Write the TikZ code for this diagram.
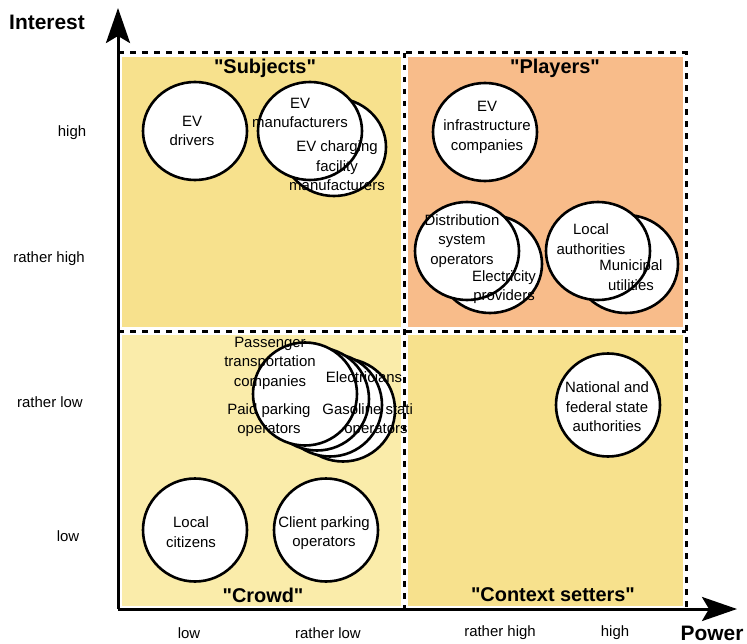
\documentclass[tikz,border=0pt]{standalone}
\usepackage{fontspec}
\setmainfont{Liberation Sans}
\usetikzlibrary{arrows.meta,shapes.geometric}
\definecolor{subjfill}{RGB}{247,225,141}
\definecolor{playfill}{RGB}{248,188,138}
\definecolor{crowdfill}{RGB}{250,236,170}
\definecolor{ctxfill}{RGB}{247,225,141}
\begin{document}
\begin{tikzpicture}[x=1bp,y=-1bp,
  stake/.style={ellipse, draw=black, fill=white, line width=2.6bp,
    minimum width=104bp, minimum height=98bp, inner sep=0pt},
  stakeR/.style={stake, minimum height=103bp},
  lbl/.style={align=center, font=\fontsize{15}{19.5}\selectfont, inner sep=0pt},
  quad/.style={font=\bfseries\fontsize{20}{24}\selectfont, inner sep=0pt},
  ticklbl/.style={font=\fontsize{15}{18}\selectfont, inner sep=0pt},
  axtitle/.style={font=\bfseries\fontsize{21}{25}\selectfont, inner sep=0pt},
  gridline/.style={line width=3bp, dash pattern=on 5.5bp off 6.5bp},
  axisline/.style={line width=3bp, -{Stealth[length=35bp,width=24bp,inset=7bp]}},
]
\useasboundingbox (0,0) rectangle (747,644);

% quadrant backgrounds
\fill[subjfill]  (122,57)  rectangle (401,327);
\fill[playfill]  (408,57)  rectangle (683,327);
\fill[crowdfill] (122,335) rectangle (401,606);
\fill[ctxfill]   (408,335) rectangle (683,606);

% grid coordinates
\coordinate (gTL) at (118,53);
\coordinate (gTR) at (686,53);
\coordinate (gBR) at (686,609);
\coordinate (gMT) at (404,53);
\coordinate (gMB) at (404,609);
\coordinate (gML) at (118,331);
\coordinate (gMR) at (686,331);

% quadrant titles
\node[quad] (qSub) at (265,68)  {\textquotedbl Subjects\textquotedbl};
\node[quad] (qPla) at (555,68)  {\textquotedbl Players\textquotedbl};
\node[quad] (qCro) at (263,595) {\textquotedbl Crowd\textquotedbl};
\node[quad] (qCtx) at (553,595) {\textquotedbl Context setters\textquotedbl};

% stakeholders: subjects
\node[stake] (drv) at (195,131) {};
\node[stake] (chg) at (334,147) {};
\node[stake] (man) at (310,131) {};
% stakeholders: players
\node[stake] (inf) at (485,132) {};
\node[stake] (elp) at (490,264) {};
\node[stake] (dso) at (467,251) {};
\node[stake] (mun) at (626,264) {};
\node[stake] (loc) at (598,251) {};
% stakeholders: crowd
\node[stakeR] (c4) at (343,410) {};
\node[stakeR] (c3) at (330,405) {};
\node[stakeR] (c2) at (317,399) {};
\node[stakeR] (c1) at (305,394) {};
\node[stakeR] (cit) at (195,530) {};
\node[stakeR] (cpo) at (326,530) {};
% stakeholders: context setters
\node[stakeR] (nat) at (608,405) {};

% labels
\node[lbl] (drvT) at (192,131) {EV\\drivers};
\node[lbl] (manT) at (300,113) {EV\\manufacturers};
\node[lbl] (chgT) at (337,166) {EV charging\\facility\\manufacturers};
\node[lbl] (infT) at (487,127) {EV\\infrastructure\\companies};
\node[lbl] (dsoT) at (462,241) {Distribution\\system\\operators};
\node[lbl] (elpT) at (504,287) {Electricity\\providers};
\node[lbl] (locT) at (591,239) {Local\\authorities};
\node[lbl] (munT) at (631,275) {Municipal\\utilities};
\node[lbl] (pasT) at (270,363) {Passenger\\transportation\\companies};
\node[lbl] (eleT) at (364,377) {Electricians};
\node[lbl] (ppoT) at (269,420) {Paid parking\\operators};
\begin{scope}
  \clip (118,331) rectangle (411,609);
  \node[lbl] (gasT) at (376,420) {Gasoline station\\operators};
\end{scope}
\node[lbl] (citT) at (191,532) {Local\\citizens};
\node[lbl] (cpoT) at (324,533) {Client parking\\operators};
\node[lbl] (natT) at (607,407) {National and\\federal state\\authorities};

% dashed grid
\draw[gridline] (gTL) -- (gTR) -- (gBR);
\draw[gridline] (gMT) -- (gMB);
\draw[gridline] (gML) -- (gMR);

% axes
\coordinate (O) at (118,609);
\coordinate (yTip) at (118,8);
\coordinate (xTip) at (737,609);
\draw[axisline] (O) -- (yTip);
\draw[axisline] (O) -- (xTip);
\node[axtitle] (yTitle) at (47,22)  {Interest};
\node[axtitle] (xTitle) at (712,633) {Power};

% tick labels
\node[ticklbl] (yt1) at (72,133) {high};
\node[ticklbl] (yt2) at (49,259) {rather high};
\node[ticklbl] (yt3) at (50,402) {rather low};
\node[ticklbl] (yt4) at (68,536) {low};
\node[ticklbl] (xt1) at (189,633) {low};
\node[ticklbl] (xt2) at (328,633) {rather low};
\node[ticklbl] (xt3) at (500,633) {rather high};
\node[ticklbl] (xt4) at (615,633) {high};
\end{tikzpicture}
\end{document}
